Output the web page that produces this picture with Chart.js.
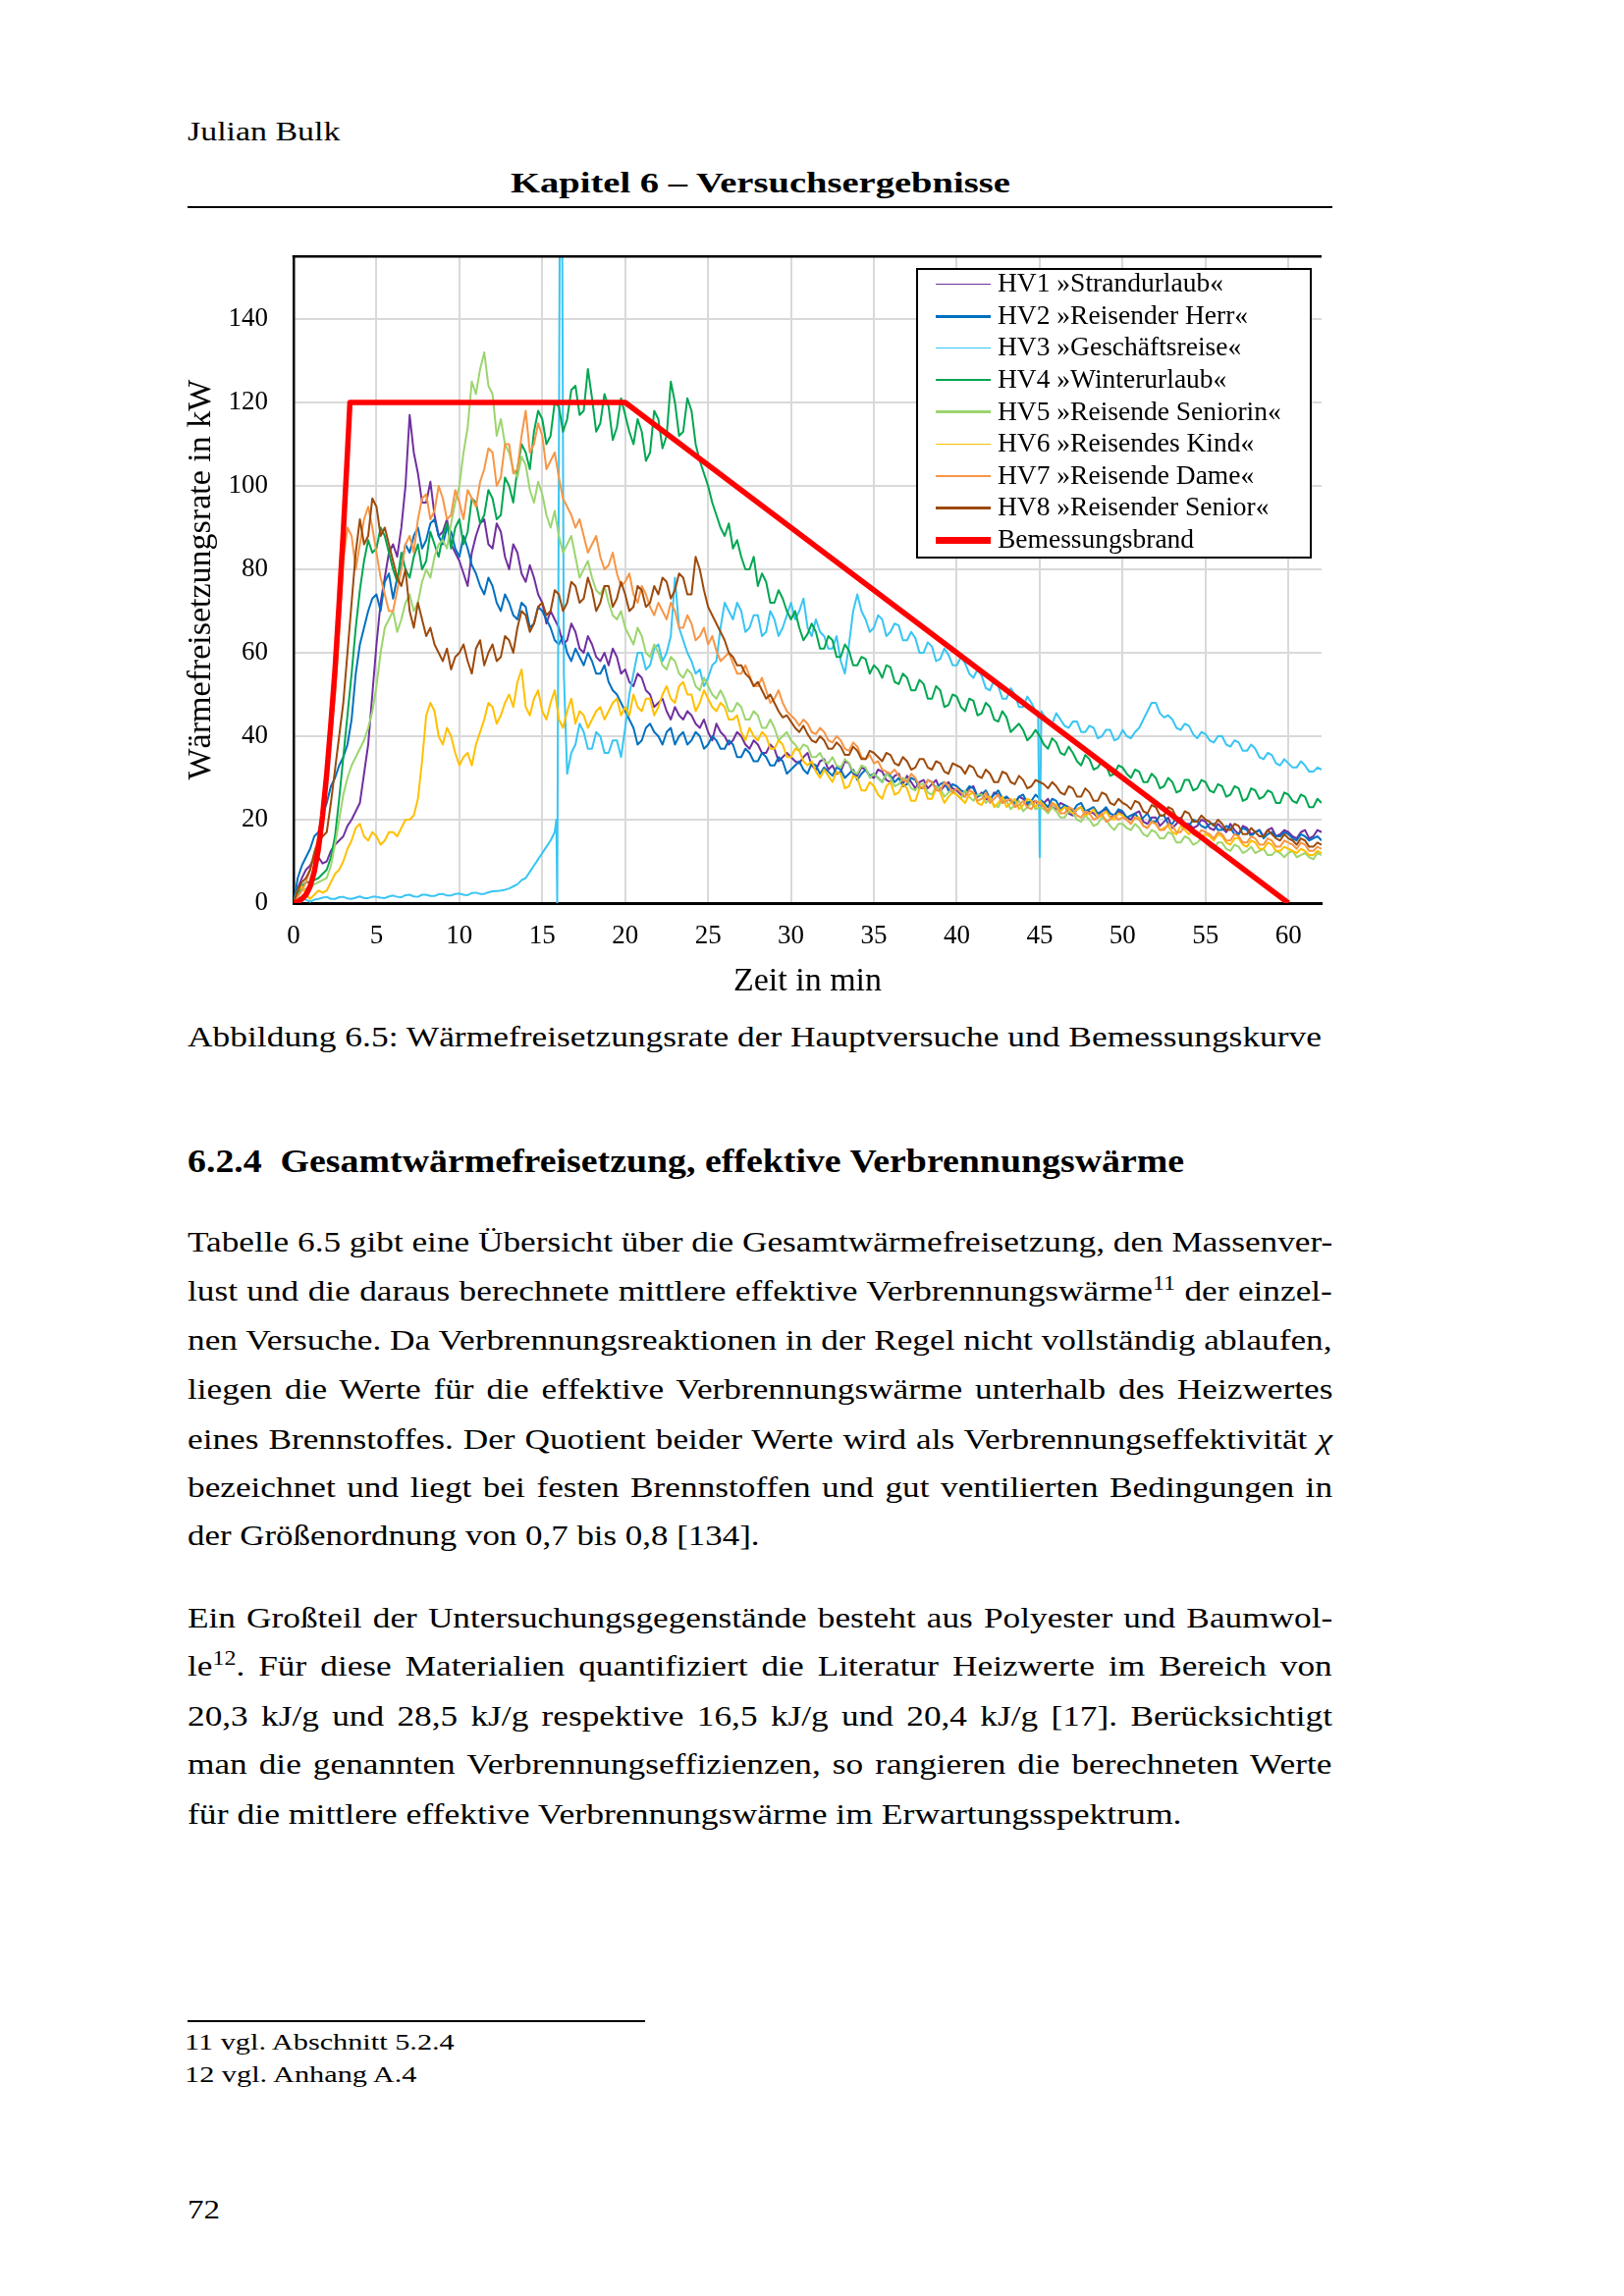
<!DOCTYPE html>
<html lang="de">
<head>
<meta charset="utf-8">
<script src="https://cdn.jsdelivr.net/npm/chart.js@4.4.1/dist/chart.umd.min.js"></script>
<style>
  html, body { margin:0; padding:0; background:#fff; }
  body { width:1654px; height:2339px; position:relative; overflow:hidden; font-family:"Liberation Serif", "Times New Roman", serif; color:#000; }
  .t { position:absolute; white-space:nowrap; display:inline-block; line-height:1; transform-origin:0 50%; }
  .b { font-weight:bold; }
  .rule { position:absolute; background:#000; }
  sup { font-size:0.68em; line-height:0; vertical-align:0.55em; }
  #legend { position:absolute; left:933px; top:273px; width:403px; height:296px; box-sizing:border-box; border:2.5px solid #000; background:#fff; }
  .lrow { position:absolute; left:0; height:30px; width:100%; }
  .lline { position:absolute; left:18px; width:56px; }
  .ltxt { position:absolute; left:81px; font-size:27.5px; line-height:1; white-space:nowrap; }
</style>
</head>
<body>

<div class="t" style="left:191px; top:120px; font-size:28px" data-w="155" data-m="l">Julian Bulk</div>
<div class="t b" style="left:520px; top:171px; font-size:30px" data-w="509" data-m="l">Kapitel 6 – Versuchsergebnisse</div>
<div class="rule" style="left:191px; top:210px; width:1166px; height:2px"></div>

<canvas id="c" width="1220" height="821" style="position:absolute; left:150px; top:219px; width:1220px; height:821px"></canvas>
<div id="legend"></div>

<div class="t" style="left:191px; top:1042px; font-size:29.5px" data-w="1155" data-m="l">Abbildung 6.5: Wärmefreisetzungsrate der Hauptversuche und Bemessungskurve</div>

<div class="t b" style="left:191px; top:1167px; font-size:33px" data-w="1015" data-m="l">6.2.4&nbsp;&nbsp;Gesamtwärmefreisetzung, effektive Verbrennungswärme</div>

<div class="t body" style="left:191px; top:1251px; font-size:29.5px" data-w="1166" data-m="j">Tabelle 6.5 gibt eine Übersicht über die Gesamtwärmefreisetzung, den Massenver-</div>
<div class="t body" style="left:191px; top:1301px; font-size:29.5px" data-w="1166" data-m="j">lust und die daraus berechnete mittlere effektive Verbrennungswärme<sup>11</sup> der einzel-</div>
<div class="t body" style="left:191px; top:1351px; font-size:29.5px" data-w="1166" data-m="j">nen Versuche. Da Verbrennungsreaktionen in der Regel nicht vollständig ablaufen,</div>
<div class="t body" style="left:191px; top:1401px; font-size:29.5px" data-w="1166" data-m="j">liegen die Werte für die effektive Verbrennungswärme unterhalb des Heizwertes</div>
<div class="t body" style="left:191px; top:1452px; font-size:29.5px" data-w="1166" data-m="j">eines Brennstoffes. Der Quotient beider Werte wird als Verbrennungseffektivität <i>χ</i></div>
<div class="t body" style="left:191px; top:1501px; font-size:29.5px" data-w="1166" data-m="j">bezeichnet und liegt bei festen Brennstoffen und gut ventilierten Bedingungen in</div>
<div class="t body" style="left:191px; top:1550px; font-size:29.5px" data-w="582" data-m="l">der Größenordnung von 0,7 bis 0,8 [134].</div>

<div class="t body" style="left:191px; top:1634px; font-size:29.5px" data-w="1166" data-m="j">Ein Großteil der Untersuchungsgegenstände besteht aus Polyester und Baumwol-</div>
<div class="t body" style="left:191px; top:1683px; font-size:29.5px" data-w="1166" data-m="j">le<sup>12</sup>. Für diese Materialien quantifiziert die Literatur Heizwerte im Bereich von</div>
<div class="t body" style="left:191px; top:1734px; font-size:29.5px" data-w="1166" data-m="j">20,3 kJ/g und 28,5 kJ/g respektive 16,5 kJ/g und 20,4 kJ/g [17]. Berücksichtigt</div>
<div class="t body" style="left:191px; top:1783px; font-size:29.5px" data-w="1166" data-m="j">man die genannten Verbrennungseffizienzen, so rangieren die berechneten Werte</div>
<div class="t body" style="left:191px; top:1834px; font-size:29.5px" data-w="1013" data-m="l">für die mittlere effektive Verbrennungswärme im Erwartungsspektrum.</div>

<div class="rule" style="left:191px; top:2058px; width:466px; height:1.5px"></div>
<div class="t" style="left:188px; top:2068px; font-size:24px" data-w="275" data-m="l">11 vgl. Abschnitt 5.2.4</div>
<div class="t" style="left:188px; top:2101px; font-size:24px" data-w="236" data-m="l">12 vgl. Anhang A.4</div>

<div class="t" style="left:191px; top:2237px; font-size:28px" data-w="33" data-m="l">72</div>

<script>
// ---------------- DATA ----------------
const seriesLabels = [
  'HV1 »Strandurlaub«', 'HV2 »Reisender Herr«', 'HV3 »Geschäftsreise«', 'HV4 »Winterurlaub«',
  'HV5 »Reisende Seniorin«', 'HV6 »Reisendes Kind«', 'HV7 »Reisende Dame«', 'HV8 »Reisender Senior«',
  'Bemessungsbrand'
];

// time in min (common grid for HV1, HV2, HV4 ... HV8)
const T = [
  0,0.25,0.5,0.75,1,1.25,1.5,1.75,2,2.25,2.5,2.75,3,3.25,3.5,3.75,4,4.25,4.5,4.75,
  5,5.25,5.5,5.75,6,6.25,6.5,6.75,7,7.25,7.5,7.75,8,8.25,8.5,8.75,9,9.25,9.5,9.75,
  10,10.25,10.5,10.75,11,11.25,11.5,11.75,12,12.25,12.5,12.75,13,13.25,13.5,13.75,14,14.25,14.5,14.75,
  15,15.25,15.5,15.75,16,16.25,16.5,16.75,17,17.25,17.5,17.75,18,18.25,18.5,18.75,19,19.25,19.5,19.75,
  20,20.25,20.5,20.75,21,21.25,21.5,21.75,22,22.25,22.5,22.75,23,23.25,23.5,23.75,24,24.25,24.5,24.75,
  25,25.25,25.5,25.75,26,26.25,26.5,26.75,27,27.25,27.5,27.75,28,28.25,28.5,28.75,29,29.25,29.5,29.75,
  30,30.25,30.5,30.75,31,31.25,31.5,31.75,32,32.25,32.5,32.75,33,33.25,33.5,33.75,34,34.25,34.5,34.75,
  35,35.25,35.5,35.75,36,36.25,36.5,36.75,37,37.25,37.5,37.75,38,38.25,38.5,38.75,39,39.25,39.5,39.75,
  40,40.25,40.5,40.75,41,41.25,41.5,41.75,42,42.25,42.5,42.75,43,43.25,43.5,43.75,44,44.25,44.5,44.75,
  45,45.25,45.5,45.75,46,46.25,46.5,46.75,47,47.25,47.5,47.75,48,48.25,48.5,48.75,49,49.25,49.5,49.75,
  50,50.25,50.5,50.75,51,51.25,51.5,51.75,52,52.25,52.5,52.75,53,53.25,53.5,53.75,54,54.25,54.5,54.75,
  55,55.25,55.5,55.75,56,56.25,56.5,56.75,57,57.25,57.5,57.75,58,58.25,58.5,58.75,59,59.25,59.5,59.75,
  60,60.25,60.5,60.75,61,61.25,61.5,61.75,62
];

const HV1 = [
  0,3.5,6,8,9,11,11,9.5,10,12.5,14,15,16,18.5,20,22,24,31,38,50,
  62,72,78,84,86,83,90,100,117,108,103,96,96,101,93,88,89,92,86,84,
  82,79,76,84,88,91,92,86,85,91,89,83,80,86,84,79,77,81,78,74,
  72,67,70,68,66,62,63,67,65,61,60,64,62,59,58,60,57,61,59,55,
  56,53,52,55,54,51,50,47,48,49,46,44,47,45,44,46,45,43,42,44,
  41,39,43,41,40,38,39,41,40,38,37,39,38,36,36,38,37,34,35,36,
  35,34,33.5,35,36,33,32,34,34.5,32,33,31,31.5,34,33.5,31,30.5,32.5,32,30.5,
  30,32,31.5,29.5,29,30.5,31,28.5,30.5,29,27.5,29,29.5,27.5,28.5,29.5,27,28,29,27.5,
  27,26,25.5,27.5,28,25.5,26.5,25,24.5,26.5,26,24,25.5,24.5,23.5,25.5,25,23.5,24,24.5,
  23,24,25,23,22.5,24,23.5,21.5,21,22.5,23,21,22,21.5,20.5,22,22.5,20.5,21,22,
  21.5,20.5,20,21.5,22,19.5,19,20.5,20.5,18.5,19.5,20.5,18,19,20.5,19,19,18,18.5,20,
  19.5,18,17.5,19,18,17,19,17.5,16.5,18.5,18,16.5,17,17.5,16,17.5,18,16,16.5,17.5,
  17,16,15.5,17,17.5,15.5,16,17.5,17
];

const HV2 = [
  0,6,9,11,13,16,17,21,24,28,30,33,35,38,44,55,62,66,70,73,
  74,70,77,79,73,78,81,86,84,88,90,85,87,91,92,88,86,90,89,85,
  83,88,85,81,79,76,74,78,76,72,70,74,72,69,68,72,71,66,67,71,
  70,68,66,63,62,64,60,58,61,59,57,60,58,55,55,57,53,51,50,48,
  46,44,42,38,39,42,43,41,40,38,41,42,38,40,41,38,39,41,40,37,
  38,40,39,37,37,39,38,35,35,37,36,34,34,36,35,33,33,35,34,31,
  32,33,34,32,31,33.5,33,31,32.5,31.5,30.5,32.5,32,30,31,32,29.5,31,32,30.5,
  31,30,29,31,30.5,29,30,28,28.5,30,29.5,27.5,27.5,29.5,29,27.5,28.5,29,27,28.5,
  28,27,26.5,28,27.5,25.5,26,27,25,26,27,25,25.5,24.5,24,25.5,26,24,24.5,26,
  25,24,23,25,24.5,22.5,23.5,23,22,23.5,24,22,22.5,23,21.5,22,23,21.5,21,22.5,
  22,20.5,21,21.5,20,20.5,21.5,19.5,19.5,21,21,19,19,20.5,20,18.5,18.5,20,19.5,18.5,
  18,19,19,17.5,17.5,18.5,18,16.5,16.5,18,17.5,16,17,17.5,15.5,16.5,17,16,16,17,
  16.5,15.5,15,16.5,16,15,15.5,16,15
];

// HV3 has its own, finer time grid around the spike at 16 min and the dip at 45 min
const T3 = [
  0,0.25,0.5,0.75,1,1.25,1.5,1.75,2,2.25,2.5,2.75,3,3.25,3.5,3.75,4,4.25,4.5,4.75,
  5,5.25,5.5,5.75,6,6.25,6.5,6.75,7,7.25,7.5,7.75,8,8.25,8.5,8.75,9,9.25,9.5,9.75,
  10,10.25,10.5,10.75,11,11.25,11.5,11.75,12,12.25,12.5,12.75,13,13.25,13.5,13.75,14,14.25,14.5,14.75,
  15,15.25,15.5,15.75,15.85,15.9,16.05,16.2,16.3,16.5,16.75,17,17.25,17.5,17.75,18,18.25,18.5,18.75,19,19.25,19.5,19.75,
  20,20.25,20.5,20.75,21,21.25,21.5,21.75,22,22.25,22.5,22.75,23,23.25,23.5,23.75,24,24.25,24.5,24.75,
  25,25.25,25.5,25.75,26,26.25,26.5,26.75,27,27.25,27.5,27.75,28,28.25,28.5,28.75,29,29.25,29.5,29.75,
  30,30.25,30.5,30.75,31,31.25,31.5,31.75,32,32.25,32.5,32.75,33,33.25,33.5,33.75,34,34.25,34.5,34.75,
  35,35.25,35.5,35.75,36,36.25,36.5,36.75,37,37.25,37.5,37.75,38,38.25,38.5,38.75,39,39.25,39.5,39.75,
  40,40.25,40.5,40.75,41,41.25,41.5,41.75,42,42.25,42.5,42.75,43,43.25,43.5,43.75,44,44.25,44.5,44.75,44.9,
  45,45.1,45.25,45.5,45.75,46,46.25,46.5,46.75,47,47.25,47.5,47.75,48,48.25,48.5,48.75,49,49.25,49.5,49.75,
  50,50.25,50.5,50.75,51,51.25,51.5,51.75,52,52.25,52.5,52.75,53,53.25,53.5,53.75,54,54.25,54.5,54.75,
  55,55.25,55.5,55.75,56,56.25,56.5,56.75,57,57.25,57.5,57.75,58,58.25,58.5,58.75,59,59.25,59.5,59.75,
  60,60.25,60.5,60.75,61,61.25,61.5,61.75,62
];
const HV3 = [
  0,1,1.5,0.8,0.3,0.8,1,1.3,1.5,1,1,1.4,1.5,1.1,1,1.3,1.6,1.2,1.2,1.5,
  1.5,1.3,1.2,1.6,1.8,1.5,1.4,1.9,2,1.6,1.5,2,2,1.7,1.7,2.1,2.2,1.8,1.8,2.2,
  2.3,2,1.9,2.4,2.5,2.2,2.2,2.6,2.8,2.9,3,3.2,3.5,4,4.5,5.5,6,7.5,9,10.5,
  12,13.5,15,17,20,0,160,160,55,31,36,38,43,41,37,37,41,40,36,36,39,39,35,
  42,50,55,60,60,56,57,61,62,58,60,64,78,66,63,60,58,55,56,52,
  54,57,58,66,72,70,68,72,70,65,66,69,69,64,65,70,68,64,66,69,
  72,68,70,73,66,64,68,65,64,61,61,64,58,55,62,70,74,70,68,65,
  66,69,68,64,65,67,66.5,63,63,65,63.5,60,60,62.5,61.5,58,58.5,61,59.5,57,
  57,59,57.5,55,54,56,54.5,51.5,51,53.5,52,49,49,51.5,50,47,47,49.5,48,46,46,
  11,46,45,44,43,45.5,44,42.5,42,43.5,43.5,41,41,42.5,42,39.5,40,41.5,41.5,39,39.5,
  41.5,40,39.5,41,42,44,46,48,48,45.5,44.5,45,44,42,41.5,43,42.5,40.5,39.5,41,
  40.5,39,38.5,40,40,38,37.5,39,38.5,36.5,36.5,38,37,35,34.5,36,35.5,33.5,33,34.5,
  33.5,32.5,32.5,34,33,31.5,31.5,32.5,32
];

const HV4 = [
  0,2,4,5,5,5.5,6,7,8,11,16,25,35,45,55,66,75,82,87,84,
  85,90,88,84,80,77,84,80,78,83,86,80,82,89,86,83,88,91,85,90,
  92,86,89,97,96,91,93,99,97,92,93,102,100,96,104,110,108,104,113,118,
  116,110,112,120,119,113,116,123,124,117,118,128,121,113,115,122,119,111,114,121,
  117,113,110,116,113,106,108,118,116,109,112,125,120,112,113,121,118,110,106,103,
  100,96,93,90,88,91,85,87,83,80,80,83,76,79,77,72,72,75,73,70,
  68,70,66,63,64.5,67,65,61,61,64,63,59,59,62,60.5,57,57,59,58.5,55,
  57,56,54,57,56.5,53,52.5,55,54,51,51,53.5,52.5,49,49,52,51,47,47.5,50,
  49.5,47,46,49,48.5,45,45.5,48,47,44,43.5,46,44.5,41,42,43,41.5,39,40,41.5,
  40,38,37,39.5,38.5,36,35.5,37.5,36,34,33,35.5,34.5,32,32.5,34,33,30.5,31,33,
  32.5,31,30,32,31.5,29,29,31,30,27.5,28,30,29,26.5,27,29.5,29.5,27,27.5,29.5,
  29,27,26.5,28.5,28,25.5,26,28,27.5,24.5,25,27.5,27,25,25.5,27,26.5,24,24,26.5,
  26,24.5,24,26,25.5,23,23,25,24
];

const HV5 = [
  0,1.5,3,3.5,4,4.5,5,5.5,6,9,14,20,26,30,33,35,37,39,42,46,
  52,60,66,68,70,65,68,72,74,70,72,77,80,78,83,86,87,85,91,96,
  100,108,114,125,122,128,132,124,122,112,116,110,108,104,102,107,105,99,96,101,
  98,93,90,94,88,84,86,88,83,78,80,82,78,75,74,76,72,69,68,70,
  66,64,62,66,64,60,59,62,60,57,56,59,58,55,54,56,55,52,51,54,
  52,50,49,51,49,46,46,48,47,44,44,46,45,42,42,44,42,39,40,41,
  39,38,36.5,38,37.5,35,35,36,34,33.5,35,33,32.5,34.5,33.5,31.5,31,33,32.5,30,
  31,30,29,31,30,28,28.5,30,29.5,27.5,27,28.5,28.5,26.5,26,28,27.5,25.5,26.5,27,
  26,25,27,25.5,24.5,26,26,24,25,23.5,23,25,24.5,22.5,23.5,24.5,22,23,24,22.5,
  23,22.5,21.5,23,22,20.5,20.5,22,21.5,20,19.5,21,20,18.5,19,20.5,20,18.5,17.5,19,
  19,18,17.5,19,18,16.5,16,17.5,17,15.5,15.5,17,16.5,14.5,14.5,16,15.5,14,14.5,15.5,
  14.5,13.5,13,14.5,14.5,13,12.5,14,13.5,12,12.5,13.5,12,12.5,13,11.5,11.5,12.5,12,11,
  12,12.5,11,11.5,12,11,10.5,12,11.5
];

const HV6 = [
  0,3,4,2,1,2,3,2.5,3,5,7,8,10,13,15,18,19,16,15,17,
  16,14,15,17,17,16,18,20,20,21,25,34,45,48,46,40,38,42,40,36,
  33,35,36,33,38,41,44,48,47,43,45,48,50,47,53,56,47,45,49,51,
  46,44,48,51,44,42,46,49,43,46,45,42,44,46,47,44,46,48,49,45,
  47,45,50,47,46,49,49,45,47,50,52,49,48,52,53,50,50,46,48,51,
  49,47,46,48,47,44,44,45,41,39,42,40,39,41,40,37,37,39,38,35,
  35,37,36.5,34,33,34,31.5,30,32,30.5,29,31.5,31,27.5,28,30.5,30,27,27,29,
  28,26,25,28,29,26,26.5,28.5,27.5,24.5,24.5,27.5,28,25,25,27.5,26.5,24,25.5,26.5,
  26,25,24,26,26.5,24,23.5,25.5,25.5,23,24,25.5,23,24,25,22.5,23.5,25,24.5,23,
  24.5,23.5,22,24,23.5,22,23,22.5,21.5,22.5,23,21,21.5,22.5,20.5,21,22,20.5,20,21.5,
  21,20,19,20.5,20.5,18.5,18,19.5,19,17.5,18,18.5,17,16.5,18.5,17.5,16.5,17.5,17,16,
  16.5,16,15,16.5,16,14.5,14,15.5,15.5,14,13.5,15,14.5,13,13,14.5,14,12.5,12.5,13.5,
  13,12.5,12,13,12.5,11.5,11.5,12.5,12
];

const HV7 = [
  0,1.5,3,5,8,12,16,22,30,40,50,65,82,90,88,80,86,92,95,90,
  84,78,74,70,70,75,80,86,88,84,92,97,98,92,94,100,97,92,93,99,
  96,92,99,97,95,101,104,109,108,100,102,110,110,103,104,112,118,108,110,115,
  112,104,106,108,102,97,95,93,90,92,88,84,86,88,83,80,81,84,79,76,
  77,79,74,72,76,74,71,69,72,70,68,72,70,66,66,69,67,63,64,66,
  62,64,60.5,58,59,60,57.5,55,55,57,54.5,52,52,54,51,48,49,51,48,46,
  45,44,42.5,44,43,41,40.5,42,41,39,38.5,40,39,37,36.5,38.5,37.5,35,34.5,35.5,
  33.5,34,32,31.5,31,32,30.5,29.5,29,31,30,28,27.5,29.5,29,27,27,29,28,26.5,
  27.5,26.5,25.5,27,26.5,24.5,25,26.5,24,25,26,24,24.5,25,23,23.5,24.5,23,22.5,24.5,
  24,23,22,24,23,21.5,21.5,23,22.5,21,20.5,22,21.5,20,20.5,21.5,19.5,20,21,20,
  20.5,20,19,20.5,20,18.5,18,19.5,19,17.5,17.5,19,18.5,17,17,18.5,17.5,16.5,16,17.5,
  17,16.5,15.5,17,16.5,15,15,16.5,16,14.5,14.5,16,15.5,14,14,15.5,15,13.5,13.5,15,
  14.5,14,13,14.5,14,12.5,12.5,13.5,13
];

const HV8 = [
  0,3,5,6,8,12,15,16,17,24,32,40,48,60,72,84,92,86,88,97,
  95,88,90,86,82,78,76,80,70,66,72,68,64,66,62,60,58,61,56,59,
  60,62,58,55,61,63,57,60,62,58,59,64,63,60,66,70,69,65,67,71,
  72,69,70,75,74,70,72,77,76,72,73,78,75,70,72,76,76,71,73,77,
  74,70,71,76,75,71,72,76,74,78,77,73,75,79,78,74,74,83,80,75,
  71,69,67,65,63,60,59,57,57,55,54,52,53,51,49,50,48,46,44.5,45,
  43.5,42,41,42.5,40.5,39,38.5,40,39,37,37,38.5,37.5,35.5,35.5,37.5,36.5,34.5,34.5,36.5,
  36,35,34,36,35.5,33.5,33,35,34,32,32.5,34.5,34.5,32.5,32,34,33.5,31.5,31,33.5,
  33,32.5,31,33,32.5,30.5,30,32,31,29,29,31.5,31,29,28.5,30.5,29.5,27.5,28,29.5,
  29,28.5,27.5,29,28,26.5,26,28,27.5,25.5,25.5,27.5,26.5,24.5,24.5,26.5,26,24,23.5,25,
  24,23.5,22.5,24.5,24,22,21.5,23.5,23,21,21,23,22.5,20.5,20,22,21.5,19.5,19.5,21,
  20,19.5,18.5,20,19,17.5,17.5,19,18.5,16.5,16.5,18,17,16,16,17.5,16.5,15.5,15,16.5,
  15.5,15,14,15.5,15,13.5,13.5,14.5,14
];

// design fire curve (Bemessungsbrand)
const TB = [0,0.25,0.5,0.75,1,1.25,1.5,1.75,2,2.25,2.5,2.75,3,3.25,3.4,20,60];
const BEM = [0,0.3,1,2,4,7.5,13,21,31,43,56,72,89,108,120,120,0];

const xTicksMax = 62;
const yTicksMax = 155;
// ------------------------------------------------------------------------

const FONT = '"Liberation Serif", "Times New Roman", serif';
const colors = ['#7030A0','#0070C0','#38C5F3','#00A651','#9CD56F','#FFC000','#F79646','#9C4A0C','#FF0000'];
const widths = [2,2,2,2,2,2,2,2,5.5];
const legendWidths = [1.5,3,1.5,1.8,3,1.5,1.5,3,6.5];

function pts(xs, ys) { return xs.map((x, i) => ({x: x, y: ys[i]})); }
const seriesData = [
  pts(T, HV1), pts(T, HV2), pts(T3, HV3), pts(T, HV4),
  pts(T, HV5), pts(T, HV6), pts(T, HV7), pts(T, HV8), pts(TB, BEM)
];

const datasets = seriesData.map((d, i) => ({
  label: seriesLabels[i],
  data: d,
  borderColor: colors[i],
  backgroundColor: colors[i],
  borderWidth: widths[i],
  pointRadius: 0,
  tension: 0,
  fill: false,
  borderJoinStyle: 'round',
  order: 8 - i
}));

const topBorder = {
  id: 'topBorder',
  afterDraw(chart) {
    const {ctx, chartArea: a} = chart;
    ctx.save();
    ctx.strokeStyle = '#000';
    ctx.lineWidth = 2.5;
    ctx.beginPath();
    ctx.moveTo(a.left - 1.25, a.top);
    ctx.lineTo(a.right, a.top);
    ctx.stroke();
    ctx.restore();
  }
};

const chart = new Chart(document.getElementById('c'), {
  type: 'line',
  data: { datasets: datasets },
  options: {
    responsive: false,
    animation: false,
    parsing: false,
    normalized: true,
    layout: { padding: { top: 20, right: 24, left: 0, bottom: 0 } },
    plugins: { legend: { display: false }, tooltip: { enabled: false } },
    scales: {
      x: {
        type: 'linear', min: 0, max: xTicksMax,
        afterFit: s => { s.height = 120; },
        ticks: { stepSize: 5, includeBounds: false, padding: 18, color: '#000', autoSkip: false, maxRotation: 0,
                 font: { family: FONT, size: 27 } },
        grid: { color: '#d9d9d9', lineWidth: 2, drawTicks: false },
        border: { color: '#000', width: 3 },
        title: { display: true, text: 'Zeit in min', color: '#000', font: { family: FONT, size: 34 },
                 padding: { top: 0, bottom: 20 } }
      },
      y: {
        type: 'linear', min: 0, max: yTicksMax,
        afterFit: s => { s.width = 149; },
        ticks: { stepSize: 20, includeBounds: false, padding: 26, color: '#000',
                 font: { family: FONT, size: 27 } },
        grid: { color: '#d9d9d9', lineWidth: 2, drawTicks: false },
        border: { color: '#000', width: 2.5 },
        title: { display: true, text: 'Wärmefreisetzungsrate in kW', color: '#000', font: { family: FONT, size: 34 },
                 padding: { top: 35, bottom: 0 } }
      }
    }
  },
  plugins: [topBorder]
});

// HTML legend built from the chart's datasets
const legend = document.getElementById('legend');
chart.data.datasets.forEach((ds, i) => {
  const row = document.createElement('div');
  row.className = 'lrow';
  const cy = 290 + i * 32.6 - 273 - 2.5;
  row.style.top = (cy - 15) + 'px';
  const ln = document.createElement('div');
  ln.className = 'lline';
  ln.style.height = legendWidths[i] + 'px';
  ln.style.top = (15 - legendWidths[i] / 2) + 'px';
  ln.style.background = ds.borderColor;
  const tx = document.createElement('div');
  tx.className = 'ltxt';
  tx.style.top = (15 - 27.5 * 0.56) + 'px';
  tx.textContent = ds.label;
  row.appendChild(ln); row.appendChild(tx);
  legend.appendChild(row);
});

// fit text lines horizontally to the widths measured on the page
function natural(el) { return el.offsetWidth; }
const els = Array.from(document.querySelectorAll('.t[data-w]'));
let scales = [];
els.filter(e => e.dataset.m === 'l').forEach(el => {
  const s = +el.dataset.w / natural(el);
  el.style.transform = 'scaleX(' + s + ')';
  if (el.classList.contains('body')) scales.push(s);
});
const baseScale = scales.length ? scales.reduce((a, b) => a + b, 0) / scales.length : 1;
els.filter(e => e.dataset.m === 'j').forEach(el => {
  el.style.wordSpacing = '0px';
  const w = natural(el);
  const spaces = (el.textContent.match(/ /g) || []).length;
  el.style.wordSpacing = ((+el.dataset.w / baseScale - w) / spaces) + 'px';
  el.style.transform = 'scaleX(' + baseScale + ')';
});
</script>
</body>
</html>
